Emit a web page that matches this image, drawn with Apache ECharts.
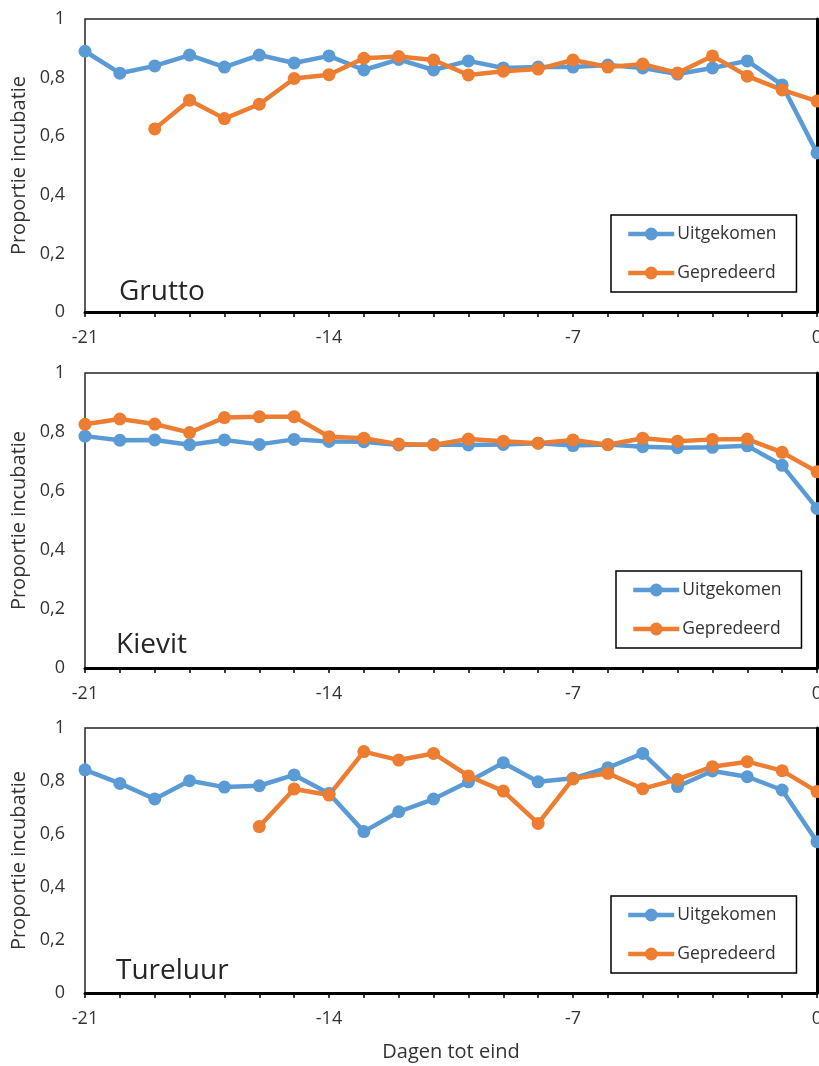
<!DOCTYPE html>
<html>
<head>
<meta charset="utf-8">
<script src="https://cdn.jsdelivr.net/npm/echarts@6/dist/echarts.min.js"></script>
<style>
  html, body { margin: 0; padding: 0; background: #fff; }
  #chart { width: 819px; height: 1066px; }
</style>
</head>
<body>
<div id="chart"></div>
<script>
// Days before the end of incubation
const days = [-21,-20,-19,-18,-17,-16,-15,-14,-13,-12,-11,-10,-9,-8,-7,-6,-5,-4,-3,-2,-1,0];

// Proportion of time incubating, per species (null = no data)
const gruttoHatched  = [0.89,0.815,0.84,0.877,0.836,0.877,0.85,0.874,0.826,0.862,0.826,0.857,0.833,0.836,0.836,0.843,0.833,0.812,0.833,0.857,0.775,0.543];
const gruttoPredated = [null,null,0.625,0.723,0.66,0.709,0.797,0.81,0.866,0.872,0.86,0.809,0.822,0.829,0.86,0.836,0.846,0.816,0.874,0.805,0.758,0.72];

const kievitHatched  = [0.786,0.772,0.773,0.757,0.773,0.758,0.775,0.768,0.767,0.756,0.758,0.756,0.758,0.762,0.754,0.758,0.75,0.747,0.748,0.753,0.687,0.541];
const kievitPredated = [0.826,0.844,0.827,0.798,0.849,0.852,0.852,0.784,0.779,0.759,0.756,0.776,0.769,0.762,0.773,0.757,0.779,0.769,0.775,0.776,0.731,0.665];

const tureluurHatched  = [0.842,0.791,0.732,0.801,0.777,0.782,0.823,0.753,0.609,0.684,0.732,0.797,0.869,0.797,0.81,0.85,0.904,0.779,0.838,0.816,0.766,0.571];
const tureluurPredated = [null,null,null,null,null,0.628,0.77,0.747,0.911,0.879,0.904,0.819,0.762,0.64,0.808,0.829,0.771,0.806,0.854,0.873,0.839,0.76];

const seriesNames = ['Uitgekomen', 'Gepredeerd'];
const speciesNames = ['Grutto', 'Kievit', 'Tureluur'];
const xTitle = 'Dagen tot eind';
const yTitle = 'Proportie incubatie';

const panels = [
  { name: speciesNames[0], hatched: gruttoHatched,   predated: gruttoPredated },
  { name: speciesNames[1], hatched: kievitHatched,   predated: kievitPredated },
  { name: speciesNames[2], hatched: tureluurHatched, predated: tureluurPredated }
];

// Panel layout (pixels)
const layout = [
  { top: 19,  height: 293, legendTop: 215, labelTop: 278 },
  { top: 373, height: 295, legendTop: 571, labelTop: 631 },
  { top: 728, height: 265, legendTop: 896, labelTop: 957 }
];
const legendLefts = [611, 616, 611];

const FONT = '"Open Sans", Lato, sans-serif';
const TEXT = '#333333';
const BLUE = '#5B9BD5';
const ORANGE = '#ED7D31';

function toPoints(values) {
  const pts = [];
  values.forEach((v, i) => { if (v !== null) pts.push([days[i], v]); });
  return pts;
}

const grids = [], xAxes = [], yAxes = [], series = [], legends = [], graphics = [];

layout.forEach((l, i) => {
  grids.push({
    left: 85, width: 732, top: l.top, height: l.height,
    outerBoundsMode: 'none', containLabel: false,
    show: true, borderColor: '#262626', borderWidth: 1.5, backgroundColor: 'transparent'
  });
  xAxes.push({
    type: 'value', gridIndex: i, min: -21, max: 0, interval: 7,
    name: i === 2 ? xTitle : '',
    nameLocation: 'middle', nameGap: 49,
    nameTextStyle: { fontFamily: FONT, fontSize: 20, color: TEXT },
    axisLine: { show: true, onZero: false, lineStyle: { color: '#000', width: 3 } },
    axisTick: { show: true, length: 5, lineStyle: { color: '#000', width: 1.5 } },
    minorTick: { show: true, splitNumber: 7, length: 5, lineStyle: { color: '#000', width: 1.5 } },
    splitLine: { show: false },
    axisLabel: { fontFamily: FONT, fontSize: 18, color: TEXT, margin: 17 }
  });
  yAxes.push({
    type: 'value', gridIndex: i, min: 0, max: 1, interval: 0.2,
    name: yTitle, nameLocation: 'middle', nameGap: 54,
    nameTextStyle: { fontFamily: FONT, fontSize: 20, color: TEXT },
    axisLine: { show: true, lineStyle: { color: '#000', width: 3 } },
    axisTick: { show: false },
    splitLine: { show: false },
    axisLabel: {
      fontFamily: FONT, fontSize: 18, color: TEXT, margin: 20,
      formatter: v => String(+v.toFixed(1)).replace('.', ',')
    }
  });
  const p = panels[i];
  [[p.hatched, BLUE], [p.predated, ORANGE]].forEach(([vals, col], k) => {
    series.push({
      type: 'line', name: seriesNames[k], xAxisIndex: i, yAxisIndex: i,
      data: toPoints(vals), clip: false,
      symbol: 'circle', symbolSize: 13, showSymbol: true,
      lineStyle: { color: col, width: 4.5 },
      itemStyle: { color: col },
      emphasis: { disabled: true },
      animation: false
    });
  });
  legends.push({
    data: seriesNames, orient: 'vertical', left: legendLefts[i], top: l.legendTop,
    selectedMode: false,
    itemWidth: 46, itemHeight: 16, itemGap: 21,
    padding: [10, 20, 10, 15],
    lineStyle: { width: 4.5 },
    borderColor: '#000', borderWidth: 1.5,
    textStyle: { fontFamily: FONT, fontSize: 17.5, color: TEXT, padding: [0, 0, 0, -2] }
  });
  graphics.push({
    type: 'text', left: i === 0 ? 119 : 116, top: l.labelTop,
    style: { text: p.name, font: '28px ' + FONT, fill: '#262626' }
  });
});

const chart = echarts.init(document.getElementById('chart'), null, { renderer: 'canvas' });
chart.setOption({
  animation: false,
  backgroundColor: '#fff',
  grid: grids, xAxis: xAxes, yAxis: yAxes,
  legend: legends, series: series, graphic: graphics
});
</script>
</body>
</html>
